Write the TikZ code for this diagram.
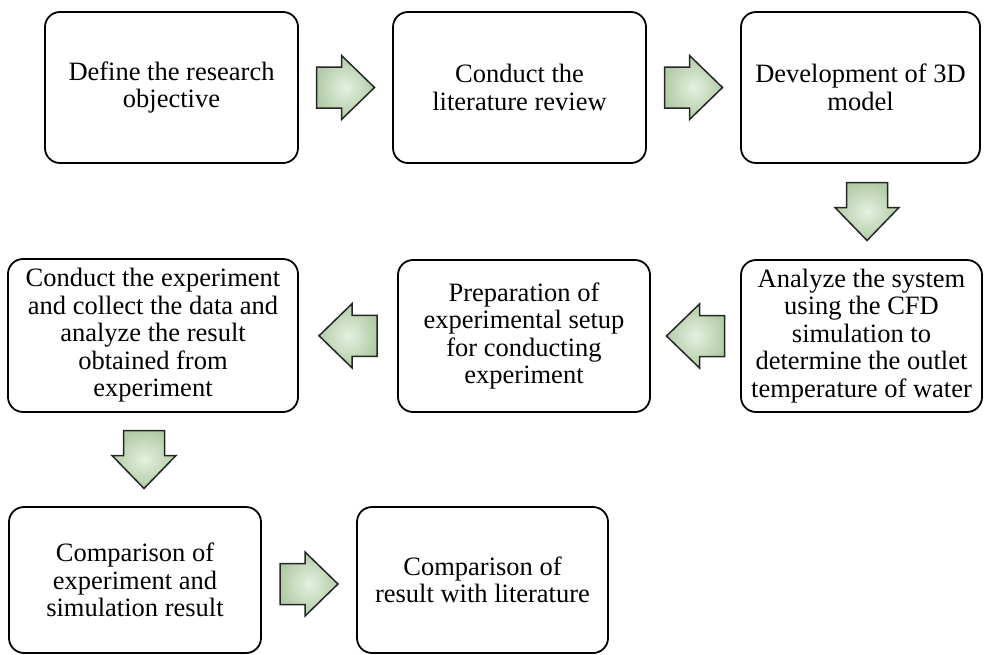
\documentclass[tikz,border=0pt]{standalone}
\usepackage{fontspec}
\setmainfont{Liberation Serif}
\usetikzlibrary{calc}

\definecolor{arrowgreen}{RGB}{178,204,168}
\definecolor{arrowlight}{RGB}{228,240,222}

\tikzset{
    pics/blockarrow/.style={
        code={
            \path[arrowbody,rotate=#1]
                (-29,-20.5) -- (-4,-20.5) -- (-4,-32) -- (29,0)
                -- (-4,32) -- (-4,20.5) -- (-29,20.5) -- cycle;
        }
    }
}

\begin{document}
\begin{tikzpicture}[
    x=1pt, y=-1pt,
    box/.style={
        rectangle,
        rounded corners=15,
        draw=black,
        line width=1.8,
        minimum height=151,
        inner sep=0pt,
        font=\fontsize{26.5}{27.5}\selectfont,
        align=center
    },
    arrowbody/.style={
        draw=black!85,
        line width=1.5,
        line join=miter,
        inner color=arrowlight,
        outer color=arrowgreen
    }
]
\useasboundingbox (0,0) rectangle (985,654);

% Row 1
\node[box,minimum width=253] (objective) at (171.5,87.5) {Define the research\\objective};
\node[box,minimum width=253] (review) at (519.5,87.5) {Conduct the\\literature review};
\node[box,minimum width=239] (model) at (860.5,87.5) {Development of 3D\\model};

% Row 2
\node[box,minimum width=241,minimum height=152] (cfd) at (861.5,336) {Analyze the system\\using the CFD\\simulation to\\determine the outlet\\temperature of water};
\node[box,minimum width=252,minimum height=152] (setup) at (524,336) {Preparation of\\experimental setup\\for conducting\\experiment};
\node[box,minimum width=290,minimum height=153] (experiment) at (153,335.5) {Conduct the experiment\\and collect the data and\\analyze the result\\obtained from\\experiment};

% Row 3
\node[box,minimum width=252,minimum height=146] (comparison) at (135,580) {Comparison of\\experiment and\\simulation result};
\node[box,minimum width=251,minimum height=146] (literature) at (482.5,580) {Comparison of\\result with literature};

% Block arrows
\pic at ($(objective.east)!0.5!(review.west)$) {blockarrow=0};
\pic at ($(review.east)!0.5!(model.west)$) {blockarrow=0};
\pic at ($(model.south)!0.5!(cfd.north)+(6,0)$) {blockarrow=-90};
\pic at ($(cfd.west)!0.5!(setup.east)$) {blockarrow=180};
\pic at ($(setup.west)!0.5!(experiment.east)$) {blockarrow=180};
\pic at ($(experiment.south)!0.5!(comparison.north)$) {blockarrow=-90};
\pic at ($(comparison.east)!0.5!(literature.west)+(0,4)$) {blockarrow=0};

\end{tikzpicture}
\end{document}
